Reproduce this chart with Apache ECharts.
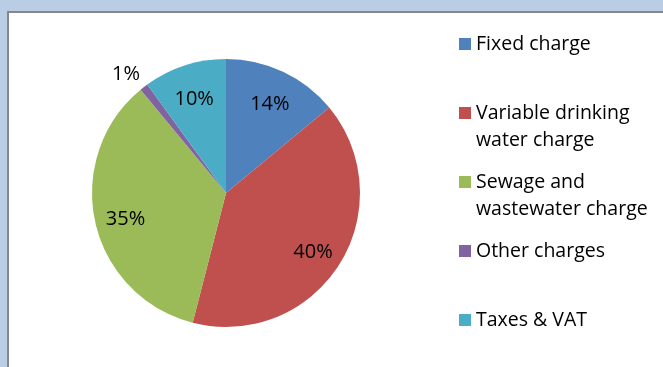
<!DOCTYPE html>
<html>
<head>
<meta charset="utf-8">
<script src="https://cdn.jsdelivr.net/npm/echarts@6/dist/echarts.min.js"></script>
<style>
  html, body { margin: 0; padding: 0; }
  body { width: 663px; height: 367px; background: #B9CDE5; position: relative; overflow: hidden; }
  #frame { position: absolute; left: 7px; top: 11px; width: 700px; height: 400px; background: #fff; border-left: 2px solid #878787; border-top: 2px solid #878787; }
  #chart { position: absolute; left: 0; top: 0; width: 663px; height: 367px; }
</style>
</head>
<body>
<div id="frame"></div>
<div id="chart"></div>
<script>
// Data
const categories = ['Fixed charge', 'Variable drinking water charge', 'Sewage and wastewater charge', 'Other charges', 'Taxes & VAT'];
const legendLabels = ['Fixed charge\n\u00a0', 'Variable drinking\nwater charge', 'Sewage and\nwastewater charge', 'Other charges\n\u00a0', 'Taxes & VAT\n\u00a0'];
const shares = [14, 40, 35, 1, 10];
const colors = ['#4F81BD', '#C0504D', '#9BBB59', '#8064A2', '#4BACC6'];

const FONT = '"Open Sans", sans-serif';

const pieData = categories.map((n, i) => ({ name: n, value: shares[i], itemStyle: { color: colors[i] } }));
const labelData = categories.map((n, i) => {
  const d = { name: n, value: shares[i] };
  if (shares[i] < 3) {
    d.label = { position: 'outside', distanceToLabelLine: -6, offset: [0, 0] };
  }
  return d;
});

const chart = echarts.init(document.getElementById('chart'), null, { renderer: 'canvas' });
chart.setOption({
  backgroundColor: 'transparent',
  animation: false,
  legend: {
    orient: 'vertical',
    left: 459,
    top: 30.5,
    height: 335,
    padding: 0,
    itemWidth: 12,
    itemHeight: 54,
    itemGap: 15,
    icon: 'path://M0,0M0,7.5h12v12h-12zM12,54',
    itemStyle: { borderWidth: 0 },
    data: categories,
    formatter: function (name) { return legendLabels[categories.indexOf(name)]; },
    textStyle: { fontFamily: FONT, fontSize: 19.5, lineHeight: 27, color: '#000' },
    selectedMode: false
  },
  series: [
    {
      type: 'pie',
      center: [226, 193],
      radius: [0, 134],
      startAngle: 90,
      clockwise: true,
      silent: true,
      label: { show: false },
      labelLine: { show: false },
      itemStyle: { borderWidth: 0 },
      data: pieData
    },
    {
      type: 'pie',
      center: [226, 193],
      radius: [66, 134],
      startAngle: 90,
      clockwise: true,
      silent: true,
      avoidLabelOverlap: false,
      itemStyle: { color: 'transparent', borderWidth: 0 },
      label: {
        show: true,
        position: 'inside',
        formatter: '{c}%',
        fontFamily: FONT,
        fontSize: 20,
        offset: [0, 4],
        color: '#000'
      },
      labelLine: { show: false, length: 16, length2: 0 },
      data: labelData
    }
  ]
});
</script>
</body>
</html>
